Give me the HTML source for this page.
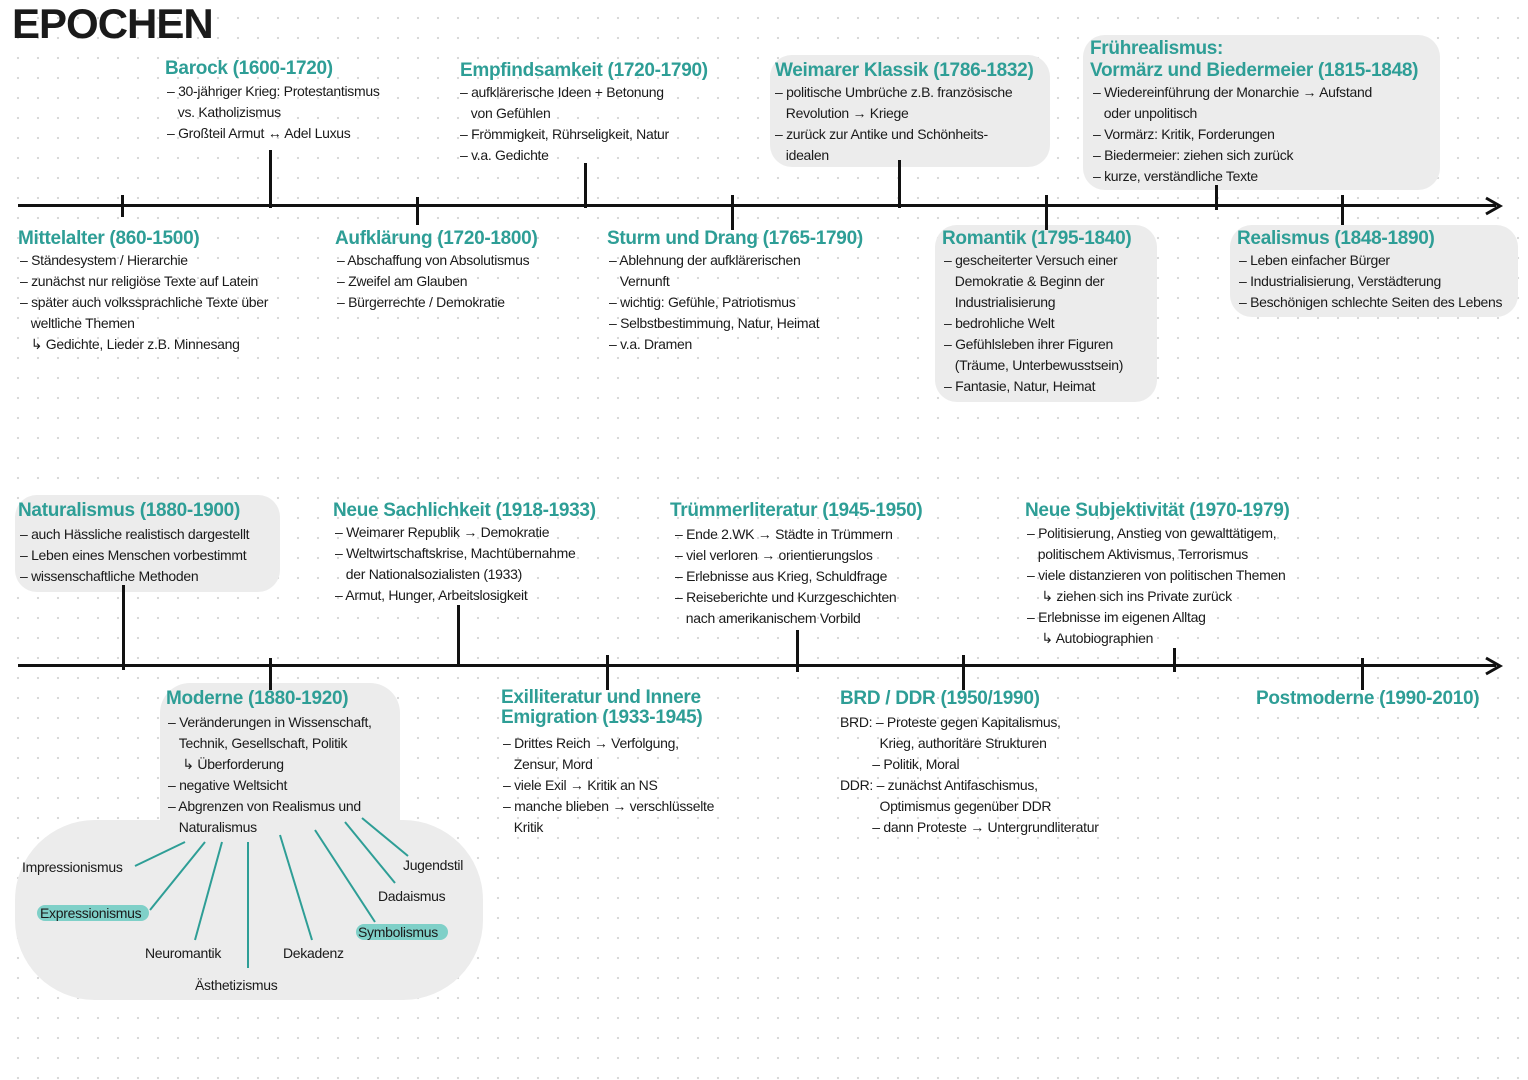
<!DOCTYPE html>
<html><head><meta charset="utf-8"><style>
body{margin:0;width:1528px;height:1080px;overflow:hidden;background:#fff;
background-image:radial-gradient(circle,#d6d6d6 1px,transparent 1.3px);background-size:20px 20px;background-position:8px 8px;
font-family:"Liberation Sans",sans-serif;position:relative;color:#1a1a1a}
.a{position:absolute;white-space:nowrap}
.h{color:#2e9e96;font-weight:bold;font-size:19px;letter-spacing:-0.3px}
.t{font-size:14px;line-height:21px;letter-spacing:-0.3px}
.b{position:absolute;background:#ececec;border-radius:22px}
.tk{position:absolute;width:3px;background:#111}
.ln{position:absolute;height:3px;background:#111}
</style></head><body>
<div class="b" style="left:770px;top:55px;width:280px;height:112px"></div>
<div class="b" style="left:1083px;top:35px;width:357px;height:155px"></div>
<div class="b" style="left:935px;top:225px;width:222px;height:177px"></div>
<div class="b" style="left:1230px;top:225px;width:288px;height:92px"></div>
<div class="b" style="left:15px;top:495px;width:265px;height:97px"></div>
<div class="b" style="left:160px;top:683px;width:240px;height:170px;border-radius:30px"></div>
<div class="b" style="left:15px;top:820px;width:468px;height:180px;border-radius:80px"></div>

<div class="a" style="left:12px;top:0;font-size:42px;font-weight:bold;letter-spacing:-1px">EPOCHEN</div>

<div class="ln" style="left:18px;top:204px;width:1478px"></div>
<svg class="a" style="left:1484px;top:196px" width="20" height="20"><path d="M2 2 L16 10 L2 18" fill="none" stroke="#111" stroke-width="3"/></svg>
<div class="tk" style="left:121px;top:195px;height:22px"></div>
<div class="tk" style="left:269px;top:150px;height:58px"></div>
<div class="tk" style="left:416px;top:197px;height:28px"></div>
<div class="tk" style="left:584px;top:163px;height:45px"></div>
<div class="tk" style="left:731px;top:195px;height:35px"></div>
<div class="tk" style="left:898px;top:160px;height:48px"></div>
<div class="tk" style="left:1045px;top:195px;height:35px"></div>
<div class="tk" style="left:1215px;top:185px;height:25px"></div>
<div class="tk" style="left:1341px;top:195px;height:30px"></div>

<div class="ln" style="left:18px;top:664px;width:1478px"></div>
<svg class="a" style="left:1484px;top:656px" width="20" height="20"><path d="M2 2 L16 10 L2 18" fill="none" stroke="#111" stroke-width="3"/></svg>
<div class="tk" style="left:122px;top:585px;height:85px"></div>
<div class="tk" style="left:269px;top:658px;height:32px"></div>
<div class="tk" style="left:457px;top:605px;height:60px"></div>
<div class="tk" style="left:606px;top:655px;height:35px"></div>
<div class="tk" style="left:796px;top:630px;height:42px"></div>
<div class="tk" style="left:962px;top:655px;height:35px"></div>
<div class="tk" style="left:1173px;top:648px;height:24px"></div>
<div class="tk" style="left:1361px;top:658px;height:32px"></div>

<div class="a h" style="left:165px;top:58px">Barock (1600-1720)</div>
<div class="a t" style="left:167px;top:81px">– 30-jähriger Krieg: Protestantismus<br>&nbsp;&nbsp;&nbsp;vs. Katholizismus<br>– Großteil Armut ↔ Adel Luxus</div>

<div class="a h" style="left:460px;top:60px">Empfindsamkeit (1720-1790)</div>
<div class="a t" style="left:460px;top:82px">– aufklärerische Ideen + Betonung<br>&nbsp;&nbsp;&nbsp;von Gefühlen<br>– Frömmigkeit, Rührseligkeit, Natur<br>– v.a. Gedichte</div>

<div class="a h" style="left:775px;top:60px">Weimarer Klassik (1786-1832)</div>
<div class="a t" style="left:775px;top:82px">– politische Umbrüche z.B. französische<br>&nbsp;&nbsp;&nbsp;Revolution → Kriege<br>– zurück zur Antike und Schönheits-<br>&nbsp;&nbsp;&nbsp;idealen</div>

<div class="a h" style="left:1090px;top:38px;line-height:22px">Frührealismus:<br>Vormärz und Biedermeier (1815-1848)</div>
<div class="a t" style="left:1093px;top:82px">– Wiedereinführung der Monarchie → Aufstand<br>&nbsp;&nbsp;&nbsp;oder unpolitisch<br>– Vormärz: Kritik, Forderungen<br>– Biedermeier: ziehen sich zurück<br>– kurze, verständliche Texte</div>

<div class="a h" style="left:18px;top:228px">Mittelalter (860-1500)</div>
<div class="a t" style="left:20px;top:250px">– Ständesystem / Hierarchie<br>– zunächst nur religiöse Texte auf Latein<br>– später auch volkssprachliche Texte über<br>&nbsp;&nbsp;&nbsp;weltliche Themen<br>&nbsp;&nbsp;&nbsp;↳ Gedichte, Lieder z.B. Minnesang</div>

<div class="a h" style="left:335px;top:228px">Aufklärung (1720-1800)</div>
<div class="a t" style="left:337px;top:250px">– Abschaffung von Absolutismus<br>– Zweifel am Glauben<br>– Bürgerrechte / Demokratie</div>

<div class="a h" style="left:607px;top:228px">Sturm und Drang (1765-1790)</div>
<div class="a t" style="left:609px;top:250px">– Ablehnung der aufklärerischen<br>&nbsp;&nbsp;&nbsp;Vernunft<br>– wichtig: Gefühle, Patriotismus<br>– Selbstbestimmung, Natur, Heimat<br>– v.a. Dramen</div>

<div class="a h" style="left:942px;top:228px">Romantik (1795-1840)</div>
<div class="a t" style="left:944px;top:250px">– gescheiterter Versuch einer<br>&nbsp;&nbsp;&nbsp;Demokratie &amp; Beginn der<br>&nbsp;&nbsp;&nbsp;Industrialisierung<br>– bedrohliche Welt<br>– Gefühlsleben ihrer Figuren<br>&nbsp;&nbsp;&nbsp;(Träume, Unterbewusstsein)<br>– Fantasie, Natur, Heimat</div>

<div class="a h" style="left:1237px;top:228px">Realismus (1848-1890)</div>
<div class="a t" style="left:1239px;top:250px">– Leben einfacher Bürger<br>– Industrialisierung, Verstädterung<br>– Beschönigen schlechte Seiten des Lebens</div>

<div class="a h" style="left:18px;top:500px">Naturalismus (1880-1900)</div>
<div class="a t" style="left:20px;top:524px">– auch Hässliche realistisch dargestellt<br>– Leben eines Menschen vorbestimmt<br>– wissenschaftliche Methoden</div>

<div class="a h" style="left:333px;top:500px">Neue Sachlichkeit (1918-1933)</div>
<div class="a t" style="left:335px;top:522px">– Weimarer Republik → Demokratie<br>– Weltwirtschaftskrise, Machtübernahme<br>&nbsp;&nbsp;&nbsp;der Nationalsozialisten (1933)<br>– Armut, Hunger, Arbeitslosigkeit</div>

<div class="a h" style="left:670px;top:500px">Trümmerliteratur (1945-1950)</div>
<div class="a t" style="left:675px;top:524px">– Ende 2.WK → Städte in Trümmern<br>– viel verloren → orientierungslos<br>– Erlebnisse aus Krieg, Schuldfrage<br>– Reiseberichte und Kurzgeschichten<br>&nbsp;&nbsp;&nbsp;nach amerikanischem Vorbild</div>

<div class="a h" style="left:1025px;top:500px">Neue Subjektivität (1970-1979)</div>
<div class="a t" style="left:1027px;top:523px">– Politisierung, Anstieg von gewalttätigem,<br>&nbsp;&nbsp;&nbsp;politischem Aktivismus, Terrorismus<br>– viele distanzieren von politischen Themen<br>&nbsp;&nbsp;&nbsp;&nbsp;↳ ziehen sich ins Private zurück<br>– Erlebnisse im eigenen Alltag<br>&nbsp;&nbsp;&nbsp;&nbsp;↳ Autobiographien</div>

<div class="a h" style="left:166px;top:688px">Moderne (1880-1920)</div>
<div class="a t" style="left:168px;top:712px">– Veränderungen in Wissenschaft,<br>&nbsp;&nbsp;&nbsp;Technik, Gesellschaft, Politik<br>&nbsp;&nbsp;&nbsp;&nbsp;↳ Überforderung<br>– negative Weltsicht<br>– Abgrenzen von Realismus und<br>&nbsp;&nbsp;&nbsp;Naturalismus</div>

<svg class="a" style="left:0;top:0" width="1528" height="1080">
<g stroke="#2e9e96" stroke-width="2" fill="none">
<line x1="185" y1="842" x2="135" y2="866"/>
<line x1="205" y1="842" x2="150" y2="910"/>
<line x1="222" y1="842" x2="195" y2="940"/>
<line x1="248" y1="842" x2="248" y2="968"/>
<line x1="280" y1="835" x2="312" y2="940"/>
<line x1="315" y1="830" x2="375" y2="922"/>
<line x1="345" y1="822" x2="395" y2="883"/>
<line x1="362" y1="818" x2="408" y2="856"/>
</g></svg>
<div class="a" style="left:37px;top:905px;width:112px;height:16px;background:#7fd0c8;border-radius:8px"></div>
<div class="a" style="left:356px;top:924px;width:92px;height:16px;background:#7fd0c8;border-radius:8px"></div>
<div class="a t" style="left:22px;top:857px">Impressionismus</div>
<div class="a t" style="left:40px;top:903px">Expressionismus</div>
<div class="a t" style="left:145px;top:943px">Neuromantik</div>
<div class="a t" style="left:195px;top:975px">Ästhetizismus</div>
<div class="a t" style="left:283px;top:943px">Dekadenz</div>
<div class="a t" style="left:358px;top:922px">Symbolismus</div>
<div class="a t" style="left:378px;top:886px">Dadaismus</div>
<div class="a t" style="left:403px;top:855px">Jugendstil</div>

<div class="a h" style="left:501px;top:688px;line-height:20px">Exilliteratur und Innere<br>Emigration (1933-1945)</div>
<div class="a t" style="left:503px;top:733px">– Drittes Reich → Verfolgung,<br>&nbsp;&nbsp;&nbsp;Zensur, Mord<br>– viele Exil → Kritik an NS<br>– manche blieben → verschlüsselte<br>&nbsp;&nbsp;&nbsp;Kritik</div>

<div class="a h" style="left:840px;top:688px">BRD / DDR (1950/1990)</div>
<div class="a t" style="left:840px;top:712px">BRD: – Proteste gegen Kapitalismus,<br>&nbsp;&nbsp;&nbsp;&nbsp;&nbsp;&nbsp;&nbsp;&nbsp;&nbsp;&nbsp;&nbsp;Krieg, authoritäre Strukturen<br>&nbsp;&nbsp;&nbsp;&nbsp;&nbsp;&nbsp;&nbsp;&nbsp;&nbsp;– Politik, Moral<br>DDR: – zunächst Antifaschismus,<br>&nbsp;&nbsp;&nbsp;&nbsp;&nbsp;&nbsp;&nbsp;&nbsp;&nbsp;&nbsp;&nbsp;Optimismus gegenüber DDR<br>&nbsp;&nbsp;&nbsp;&nbsp;&nbsp;&nbsp;&nbsp;&nbsp;&nbsp;– dann Proteste → Untergrundliteratur</div>

<div class="a h" style="left:1256px;top:688px">Postmoderne (1990-2010)</div>
</body></html>
